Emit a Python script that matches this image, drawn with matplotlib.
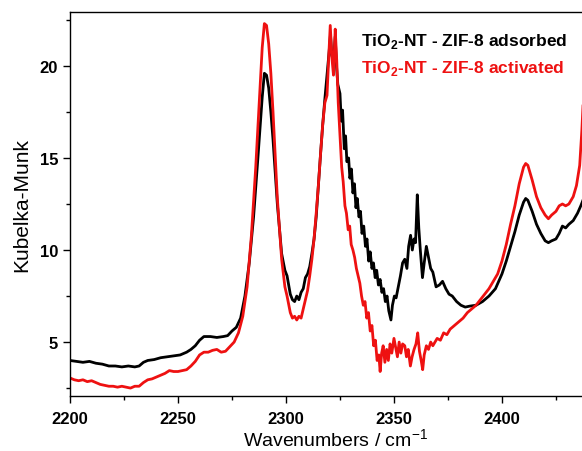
# Libraries import
import matplotlib
matplotlib.use('Agg')
import matplotlib.pyplot as plt
from matplotlib.ticker import MultipleLocator

plt.rcParams['font.family'] = ['Liberation Sans', 'DejaVu Sans']
plt.rcParams['mathtext.fontset'] = 'custom'
plt.rcParams['mathtext.rm'] = 'Liberation Sans'
plt.rcParams['mathtext.bf'] = 'Liberation Sans:bold'

# Spectra (wavenumber, Kubelka-Munk)
adsorbed_x = [2200, 2203, 2206, 2209, 2212, 2215, 2218, 2221, 2224, 2227, 2230, 2232, 2234, 2236,
              2239, 2242, 2245, 2248, 2251, 2254, 2256, 2258, 2260, 2262, 2265, 2268, 2271, 2273,
              2275, 2277, 2279, 2281, 2283, 2285, 2287, 2289, 2290, 2291, 2292, 2293, 2294, 2296,
              2298, 2299.5, 2300.5, 2302, 2303, 2304, 2305, 2306, 2307, 2308, 2309, 2310, 2311,
              2312, 2313, 2314, 2315, 2316, 2317, 2318, 2319, 2320, 2320.6, 2321.2, 2322, 2322.8,
              2323.4, 2324, 2325, 2325.6, 2326.2, 2327, 2327.6, 2328.2, 2329, 2329.6, 2330.3, 2331,
              2331.7, 2332.4, 2333, 2333.8, 2334.5, 2335.2, 2336, 2336.8, 2337.5, 2338.3, 2339,
              2339.8, 2340.5, 2341.3, 2342, 2342.8, 2343.6, 2344.4, 2345.2, 2346, 2346.8, 2347.6,
              2348.6, 2349.3, 2350.2, 2351, 2352, 2353, 2354, 2355, 2356, 2356.8, 2357.7, 2358.5,
              2359.3, 2360, 2360.8, 2361.5, 2362.2, 2363.2, 2364, 2365, 2366, 2367, 2368, 2369.5,
              2371, 2372.5, 2374, 2375.5, 2377, 2379, 2381, 2383, 2385, 2388, 2391, 2394, 2397,
              2400, 2402, 2404, 2406, 2408, 2410, 2411, 2412, 2414, 2416, 2418, 2420, 2421.5, 2423,
              2425, 2426.5, 2428, 2429.5, 2431, 2433, 2435, 2436.5, 2437.5]
adsorbed_y = [4.0, 3.95, 3.9, 3.95, 3.85, 3.8, 3.7, 3.7, 3.65, 3.7, 3.65, 3.7, 3.9, 4.0,
              4.05, 4.15, 4.2, 4.25, 4.3, 4.45, 4.6, 4.8, 5.1, 5.3, 5.3, 5.25, 5.3, 5.35,
              5.6, 5.8, 6.3, 7.5, 9.3, 11.8, 15.0, 18.3, 19.6, 19.5, 18.8, 17.5, 16.0, 12.5,
              9.8, 8.9, 8.6, 7.6, 7.3, 7.2, 7.5, 7.3, 7.7, 7.9, 8.5, 8.7, 9.1,
              9.8, 10.6, 11.8, 13.5, 15.2, 16.8, 18.2, 19.5, 20.8, 21.7, 20.6, 20.2, 21.6,
              20.0, 19.0, 18.5, 17.0, 17.6, 15.5, 16.2, 14.8, 15.0, 13.9, 14.4, 13.1,
              13.6, 12.3, 12.8, 11.8, 12.1, 10.9, 11.3, 10.2, 10.6, 9.4, 9.9,
              9.0, 9.3, 8.5, 8.9, 8.1, 8.4, 7.7, 7.9, 7.2, 7.5, 6.7,
              6.2, 7.0, 7.5, 7.4, 8.0, 8.6, 9.3, 9.5, 9.0, 10.2, 10.8, 10.0,
              10.6, 10.4, 13.0, 11.2, 10.0, 8.5, 9.3, 10.2, 9.6, 9.0, 8.8, 8.0,
              8.1, 8.3, 7.9, 7.6, 7.5, 7.2, 7.0, 6.9, 6.95, 7.0, 7.2, 7.5, 7.9,
              8.7, 9.4, 10.2, 11.0, 11.9, 12.6, 12.8, 12.7, 12.1, 11.4, 10.9, 10.5, 10.4, 10.5,
              10.6, 10.9, 11.3, 11.2, 11.4, 11.6, 12.0, 12.4, 12.7]

activated_x = [2200, 2202, 2204, 2206, 2208, 2210, 2212, 2214, 2216, 2218, 2220, 2222, 2224, 2226,
               2228, 2230, 2232, 2234, 2236, 2238, 2240, 2242, 2244, 2246, 2248, 2250, 2252, 2254,
               2256, 2258, 2260, 2262, 2264, 2266, 2268, 2270, 2272, 2274, 2276, 2278, 2280, 2282,
               2284, 2286, 2288, 2289, 2290, 2291, 2292, 2293, 2294, 2296, 2298, 2299.5, 2300.5,
               2302, 2303, 2304, 2305, 2306, 2307, 2308, 2309, 2310, 2311, 2312, 2313, 2314, 2315,
               2316, 2317, 2318, 2319, 2319.8, 2320.5, 2321.3, 2322, 2322.8, 2323.5, 2324.2, 2325,
               2325.8, 2326.5, 2327.3, 2328, 2328.8, 2329.5, 2330.2, 2331, 2331.8, 2332.6, 2333.4,
               2334.2, 2335, 2335.8, 2336.6, 2337.4, 2338.2, 2339, 2339.8, 2340.6, 2341.4, 2342.2,
               2343, 2343.6, 2344.3, 2345, 2345.8, 2346.6, 2347.4, 2348.2, 2349, 2350, 2350.8,
               2351.6, 2352.4, 2353.2, 2354, 2355, 2355.8, 2356.6, 2357.6, 2358.4, 2359.3, 2360.2,
               2361, 2361.8, 2362.6, 2363.3, 2364, 2365, 2366, 2367, 2368, 2369, 2370, 2371.5, 2373,
               2374.5, 2376, 2378, 2380, 2382, 2384, 2386, 2388, 2390, 2392, 2394, 2396, 2398, 2400,
               2402, 2404, 2406, 2408, 2410, 2411, 2412, 2414, 2416, 2418, 2420, 2421.5, 2423, 2425,
               2426.5, 2428, 2429.5, 2431, 2433, 2434.5, 2436, 2437, 2437.8]
activated_y = [3.05, 2.95, 2.9, 2.95, 2.85, 2.9, 2.8, 2.7, 2.65, 2.6, 2.6, 2.55, 2.6, 2.55,
               2.5, 2.6, 2.6, 2.8, 2.95, 3.0, 3.1, 3.2, 3.3, 3.45, 3.4, 3.4, 3.45, 3.5,
               3.7, 3.95, 4.3, 4.45, 4.45, 4.55, 4.6, 4.45, 4.5, 4.75, 5.0, 5.5, 6.4, 8.0,
               10.8, 14.5, 18.8, 21.0, 22.3, 22.2, 21.2, 19.6, 17.5, 12.8, 9.5, 8.0, 7.5,
               6.6, 6.3, 6.4, 6.2, 6.4, 6.3, 6.8, 7.3, 7.8, 8.6, 9.5, 10.6, 12.0, 13.5,
               15.2, 16.8, 18.0, 18.4, 20.5, 22.2, 20.4, 19.5, 22.0, 20.3, 18.0, 16.2,
               14.5, 13.7, 12.4, 12.0, 11.1, 11.3, 10.3, 10.0, 9.6, 9.0, 8.6,
               8.2, 7.5, 7.0, 7.2, 6.3, 6.6, 5.6, 5.9, 4.8, 5.1, 4.0,
               4.3, 3.4, 4.4, 4.8, 3.9, 4.6, 4.0, 4.9, 4.4, 5.2, 4.7,
               4.2, 5.0, 4.4, 4.9, 4.8, 4.2, 4.6, 3.7, 4.2, 4.6, 4.9,
               5.5, 4.5, 4.0, 3.5, 4.3, 4.8, 4.6, 5.0, 4.8, 5.0, 5.2, 5.1, 5.5,
               5.4, 5.7, 5.9, 6.1, 6.3, 6.6, 6.8, 7.0, 7.3, 7.6, 7.9, 8.3, 8.7, 9.4,
               10.3, 11.4, 12.4, 13.6, 14.5, 14.7, 14.6, 13.8, 12.9, 12.3, 11.9, 11.7, 11.9, 12.1,
               12.4, 12.5, 12.4, 12.5, 12.9, 13.5, 14.6, 16.5, 18.5]

x_ticks = [2200, 2250, 2300, 2350, 2400]
y_ticks = [5, 10, 15, 20]

# Figure and axes (axes run past the right edge of the picture)
fig = plt.figure(figsize=(5.82, 4.52), dpi=100)
ax = fig.add_axes([70 / 582, 55 / 452, 530 / 582, 384 / 452])

ax.plot(adsorbed_x, adsorbed_y, color='black', lw=2.0, label=r'TiO$_\mathbf{2}$-NT - ZIF-8 adsorbed')
ax.plot(activated_x, activated_y, color='#ee1111', lw=2.0, label=r'TiO$_\mathbf{2}$-NT - ZIF-8 activated')

ax.set_xlim(2200, 2445.4)
ax.set_ylim(2.07, 22.93)
ax.set_xticks(x_ticks)
ax.set_yticks(y_ticks)
ax.xaxis.set_minor_locator(MultipleLocator(25))
ax.yaxis.set_minor_locator(MultipleLocator(2.5))
ax.tick_params(which='major', direction='out', length=5, width=1, labelsize=12)
ax.tick_params(axis='x', which='major', pad=6)
ax.tick_params(which='minor', direction='out', length=3, width=1)
for lab in ax.get_xticklabels() + ax.get_yticklabels():
    lab.set_fontweight('bold')
for s in ax.spines.values():
    s.set_linewidth(1.0)

ax.set_xlabel(r'Wavenumbers / cm$^{\mathrm{-1}}$', fontsize=14, labelpad=1)
ax.set_ylabel('Kubelka-Munk', fontsize=15, labelpad=6)

leg = ax.legend(loc='upper left', bbox_to_anchor=(0.52, 0.99), frameon=False,
                handlelength=0, handletextpad=0, labelcolor='linecolor',
                prop={'weight': 'bold', 'size': 12.5}, labelspacing=0.45)
for h in leg.legend_handles:
    h.set_visible(False)

fig.savefig('out.png', dpi=100)
